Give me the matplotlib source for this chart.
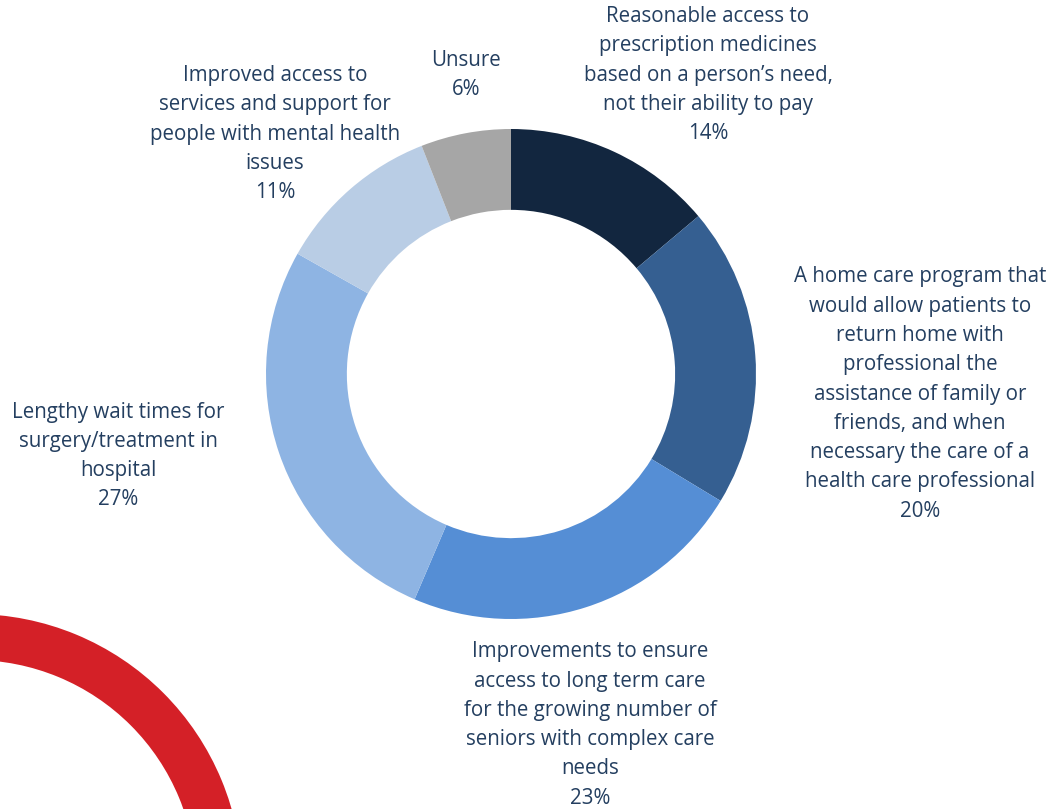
import matplotlib
matplotlib.use("Agg")
import matplotlib.pyplot as plt
from matplotlib.patches import Wedge

categories = [
    "Reasonable access to\nprescription medicines\nbased on a person\u2019s need,\nnot their ability to pay",
    "A home care program that\nwould allow patients to\nreturn home with\nprofessional the\nassistance of family or\nfriends, and when\nnecessary the care of a\nhealth care professional",
    "Improvements to ensure\naccess to long term care\nfor the growing number of\nseniors with complex care\nneeds",
    "Lengthy wait times for\nsurgery/treatment in\nhospital",
    "Improved access to\nservices and support for\npeople with mental health\nissues",
    "Unsure",
]
values = [14, 20, 23, 27, 11, 6]
colors = ["#12263F", "#355F91", "#558ED5", "#8EB4E3", "#B9CDE5", "#A6A6A6"]
text_color = "#243F60"

W, H = 1052, 809
fig = plt.figure(figsize=(W / 100, H / 100), dpi=100)
plt.rcParams['font.family'] = ['Open Sans', 'DejaVu Sans']

# overlay axes in pixel coordinates
ov = fig.add_axes([0, 0, 1, 1])
ov.set_xlim(0, W)
ov.set_ylim(H, 0)
ov.axis("off")
ov.add_patch(Wedge((-27, 883), 269, 0, 360, width=46, facecolor="#D42027", edgecolor="none"))

# donut
cx, cy, R = 511, 374, 245
ax = fig.add_axes([(cx - R) / W, (H - cy - R) / H, 2 * R / W, 2 * R / H])
ax.pie(values, colors=colors, startangle=90, counterclock=False,
       wedgeprops=dict(width=0.33, edgecolor="none"))
ax.set_xlim(-1, 1)
ax.set_ylim(-1, 1)
ax.axis("off")

label_pos = [(708, 75), (920, 394), (590, 725), (118, 456), (275, 134), (466, 75)]
for cat, v, (x, y) in zip(categories, values, label_pos):
    ov.text(x, y, f"{cat}\n{v}%", ha="center", va="center", fontsize=14.8,
            color=text_color, linespacing=1.52, clip_on=False)

fig.savefig("out.png", dpi=100)
